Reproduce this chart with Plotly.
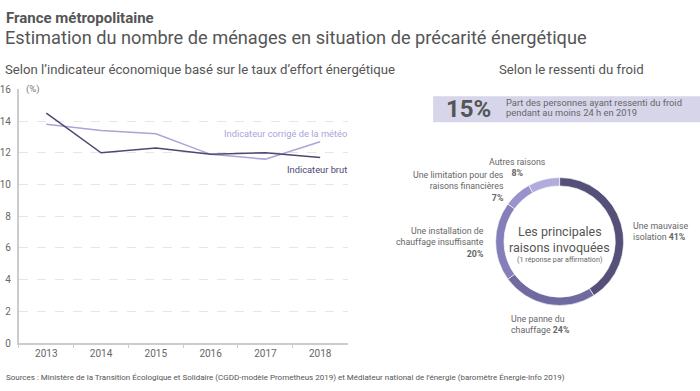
import plotly.graph_objects as go

years = ["2013", "2014", "2015", "2016", "2017", "2018"]
brut = [14.5, 12.0, 12.3, 11.9, 12.0, 11.7]
corrige = [13.8, 13.4, 13.2, 11.9, 11.6, 12.7]
y_ticks = [0, 2, 4, 6, 8, 10, 12, 14, 16]

reasons = ["Une mauvaise isolation", "Une panne du chauffage",
           "Une installation de chauffage insuffisante",
           "Une limitation pour des raisons financières", "Autres raisons"]
reason_values = [41, 24, 20, 7, 8]
reason_colors = ["#545077", "#6f6a9f", "#847fb8", "#9893cb", "#b0acdc"]

W, H = 700, 391
def px(x): return x / W
def py(y): return 1 - y / H

FONT = "Roboto"
GREY = "#555555"
DARK = "#4c4872"
LIGHT = "#a9a5d9"

fig = go.Figure()
fig.add_trace(go.Scatter(x=years, y=corrige, mode="lines", line=dict(color=LIGHT, width=1.5),
                         name="Indicateur corrigé de la météo", hoverinfo="skip"))
fig.add_trace(go.Scatter(x=years, y=brut, mode="lines", line=dict(color=DARK, width=1.5),
                         name="Indicateur brut", hoverinfo="skip"))

fig.add_trace(go.Pie(labels=reasons, values=reason_values, sort=False, direction="clockwise",
                     rotation=0, hole=0.87, textinfo="none", hoverinfo="skip",
                     marker=dict(colors=reason_colors, line=dict(color="white", width=0.6)),
                     domain=dict(x=[px(493), px(625)], y=[py(309), py(177)]),
                     showlegend=False))

ann = []
def A(text, x, y, size, color=GREY, xa="left", ya="middle", align="left"):
    ann.append(dict(text=text, x=px(x), y=py(y), xref="paper", yref="paper", showarrow=False,
                    xanchor=xa, yanchor=ya, align=align, borderpad=0,
                    font=dict(family=FONT, size=size, color=color)))

A("<b>France métropolitaine</b>", 2, 12, 15)
A("Estimation du nombre de ménages en situation de précarité énergétique", 1, 33, 18.2)
A("Selon l’indicateur économique basé sur le taux d’effort énergétique", 1, 66, 13.2)
A("Selon le ressenti du froid", 571, 66, 13.2, xa="center")
A("(%)", 22, 86, 9.5, color="#777777")
A("Indicateur corrigé de la météo", 346, 131.5, 9.3, color=LIGHT, xa="right")
A("Indicateur brut", 346, 169, 9.3, color=DARK, xa="right")
A("Sources : Ministère de la Transition Écologique et Solidaire (CGDD-modèle Prometheus 2019) et Médiateur national de l’énergie (baromètre Énergie-Info 2019)",
  2, 383, 8)

A("<b>15%</b>", 444, 106, 24, color="#555555")
A("Part des personnes ayant ressenti du froid", 504, 100, 9.4, color="#666666")
A("pendant au moins 24 h en 2019", 504, 110, 9.4, color="#666666")

A("Les principales", 559, 233, 12.5, color="#555555", xa="center")
A("raisons invoquées", 559, 249.5, 12.5, color="#555555", xa="center")
A("(1 réponse par affirmation)", 559, 262, 7.2, color="#666666", xa="center")

A("Autres raisons<br><b>8%</b>", 517, 167, 8.8, color="#666666", xa="center", align="center")
A("Une limitation pour des<br>raisons financières<br><b>7%</b>", 504, 186, 8.8, color="#666666", xa="right", align="right")
A("Une installation de<br>chauffage insuffisante<br><b>20%</b>", 484, 244, 8.8, color="#666666", xa="right", align="right")
A("Une mauvaise<br>isolation <b>41%</b>", 632, 233, 8.8, color="#666666")
A("Une panne du<br>chauffage <b>24%</b>", 509, 329, 8.8, color="#666666")

fig.update_layout(
    width=W, height=H, margin=dict(l=0, r=0, t=0, b=0),
    paper_bgcolor="white", plot_bgcolor="white", showlegend=False,
    font=dict(family=FONT, color=GREY),
    annotations=ann,
    shapes=[dict(type="rect", xref="paper", yref="paper", x0=px(432), x1=px(700),
                 y0=py(120), y1=py(93), fillcolor="#d6d5ea", line=dict(width=0), layer="below")],
    xaxis=dict(domain=[px(16), px(346)], type="category", range=[-0.5, 5.5],
               showline=True, linecolor="#cccccc", linewidth=1.5,
               ticks="outside", tickson="boundaries", ticklen=3, tickcolor="#cccccc",
               showgrid=False, tickfont=dict(size=10, color="#666666"), fixedrange=True),
    yaxis=dict(domain=[py(347.7), py(86)], range=[0, 16], tickvals=y_ticks,
               showline=True, linecolor="#cccccc", linewidth=2, ticks="",
               showgrid=True, gridcolor="#e6e6e6", griddash="dash", zeroline=False,
               tickfont=dict(size=10, color="#666666"), ticklabelstandoff=4, fixedrange=True),
)

fig.write_html("out.html", config={"displayModeBar": False},
               post_script="document.body.style.margin='0';document.body.style.overflow='hidden';")
